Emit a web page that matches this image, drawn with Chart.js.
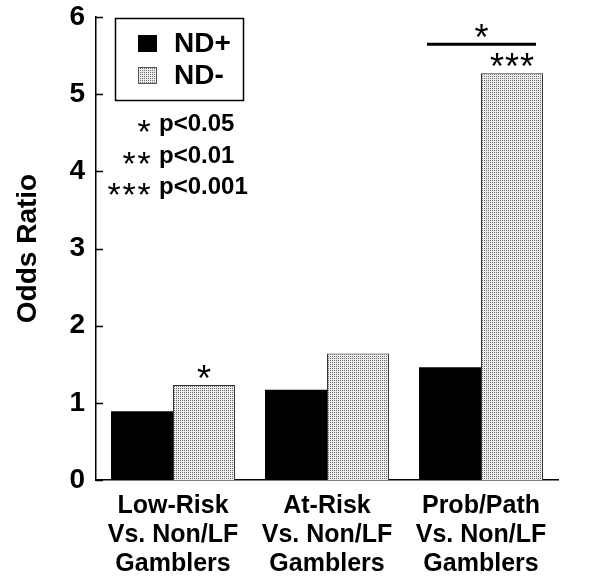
<!DOCTYPE html>
<html>
<head>
<meta charset="utf-8">
<script src="https://cdn.jsdelivr.net/npm/chart.js@4.4.0/dist/chart.umd.min.js"></script>
<style>
html,body{margin:0;padding:0;background:#fff;}
#wrap{width:600px;height:580px;position:relative;}
</style>
</head>
<body>
<div id="wrap"><canvas id="c" width="600" height="580"></canvas></div>
<script>
const categories = [["Low-Risk","Vs. Non/LF","Gamblers"],["At-Risk","Vs. Non/LF","Gamblers"],["Prob/Path","Vs. Non/LF","Gamblers"]];
const seriesNames = ["ND+","ND-"];
const ndPlus = [0.89, 1.17, 1.46];
const ndMinus = [1.23, 1.64, 5.27];
const ndMinusSig = ["*", "", "***"];
const yTicks = [0,1,2,3,4,5,6];
const sigLegend = [["*","p<0.05"],["**","p<0.01"],["***","p<0.001"]];

const FONT = "'Liberation Sans', Arial, sans-serif";

function makePattern(){
  const pc = document.createElement('canvas');
  pc.width = 2; pc.height = 2;
  const p = pc.getContext('2d');
  p.fillStyle = '#ececec'; p.fillRect(0,0,2,2);
  p.fillStyle = '#6e6e6e'; p.fillRect(0,0,1,1);
  return document.getElementById('c').getContext('2d').createPattern(pc,'repeat');
}
const dotted = makePattern();

function stars(ctx, s, x, y, pitch){
  const n = s.length;
  for(let k=0;k<n;k++){
    ctx.fillText('*', x + (k - (n-1)/2)*pitch, y);
  }
}

const annot = {
  id:'annot',
  afterDraw(chart){
    const ctx = chart.ctx;
    const ys = chart.scales.y;
    const ca = chart.chartArea;
    ctx.save();
    ctx.strokeStyle = '#000'; ctx.lineWidth = 1.5;
    yTicks.forEach(v=>{
      const y = Math.round(ys.getPixelForValue(v))+0.5;
      ctx.beginPath(); ctx.moveTo(ca.left, y); ctx.lineTo(ca.left+7, y); ctx.stroke();
    });
    const m0 = chart.getDatasetMeta(0), m1 = chart.getDatasetMeta(1);
    ctx.fillStyle = '#000';
    ctx.textAlign = 'center'; ctx.textBaseline = 'alphabetic';
    ctx.font = "36px " + FONT;
    ndMinusSig.forEach((s,i)=>{
      if(!s) return;
      const b = m1.data[i];
      stars(ctx, s, b.x, b.y + 6, 15);
    });
    const bA = m0.data[2], bB = m1.data[2];
    const by = bB.y - 29;
    ctx.lineWidth = 3;
    ctx.beginPath(); ctx.moveTo(bA.x - 23, by); ctx.lineTo(bB.x + 24, by); ctx.stroke();
    stars(ctx, '*', (bA.x - 23 + bB.x + 24)/2, by + 6, 15);
    // legend box
    ctx.lineWidth = 1.5; ctx.strokeStyle = '#000';
    ctx.strokeRect(115.5, 18.5, 128, 82);
    ctx.fillStyle = '#000'; ctx.fillRect(138, 35, 19, 17);
    ctx.fillStyle = dotted; ctx.fillRect(138, 67, 19, 17);
    ctx.strokeStyle = '#555'; ctx.lineWidth = 1; ctx.strokeRect(138.5, 67.5, 18, 16);
    ctx.fillStyle = '#000';
    ctx.font = "bold 28px " + FONT;
    ctx.textAlign = 'left'; ctx.textBaseline = 'middle';
    ctx.fillText(seriesNames[0], 174, 44);
    ctx.fillText(seriesNames[1], 174, 76);
    // p-value legend
    const rows = [123, 155, 186];
    sigLegend.forEach((r,i)=>{
      ctx.font = "34px " + FONT;
      ctx.textAlign = 'center'; ctx.textBaseline = 'alphabetic';
      const n = r[0].length;
      stars(ctx, r[0], 150 - (n-1)*15/2 - 6, rows[i] + 20, 15);
      ctx.font = "bold 24px " + FONT;
      ctx.textAlign = 'left'; ctx.textBaseline = 'middle';
      ctx.fillText(r[1], 159, rows[i] + 1);
    });
    ctx.restore();
  }
};

new Chart(document.getElementById('c'), {
  type:'bar',
  data:{
    labels: categories,
    datasets:[
      {label:seriesNames[0], data:ndPlus, backgroundColor:'#000', borderColor:'#000', borderWidth:0},
      {label:seriesNames[1], data:ndMinus, backgroundColor:dotted, borderColor:'#333', borderWidth:1}
    ]
  },
  options:{
    responsive:false,
    animation:false,
    devicePixelRatio:1,
    categoryPercentage:0.805,
    barPercentage:1,
    layout:{padding:{top:0, right:42, left:0, bottom:0}},
    plugins:{legend:{display:false}, tooltip:{enabled:false}},
    scales:{
      x:{
        grid:{display:false, drawTicks:false},
        border:{color:'#000', width:1.5},
        ticks:{color:'#000', font:{family:FONT, size:25, weight:'bold', lineHeight:1.16}, padding:12, maxRotation:0, autoSkip:false},
        afterFit(s){ s.height = 100; }
      },
      y:{
        min:0, max:6,
        grid:{display:false, drawTicks:false},
        border:{color:'#000', width:1.5},
        ticks:{stepSize:1, color:'#000', font:{family:FONT, size:28, weight:'bold', lineHeight:0.43}, padding:11},
        title:{display:true, text:'Odds Ratio', color:'#000', font:{family:FONT, size:28, weight:'bold'}, padding:{top:11,bottom:4}},
        afterFit(s){ s.width = 96; }
      }
    }
  },
  plugins:[annot]
});
</script>
</body>
</html>
